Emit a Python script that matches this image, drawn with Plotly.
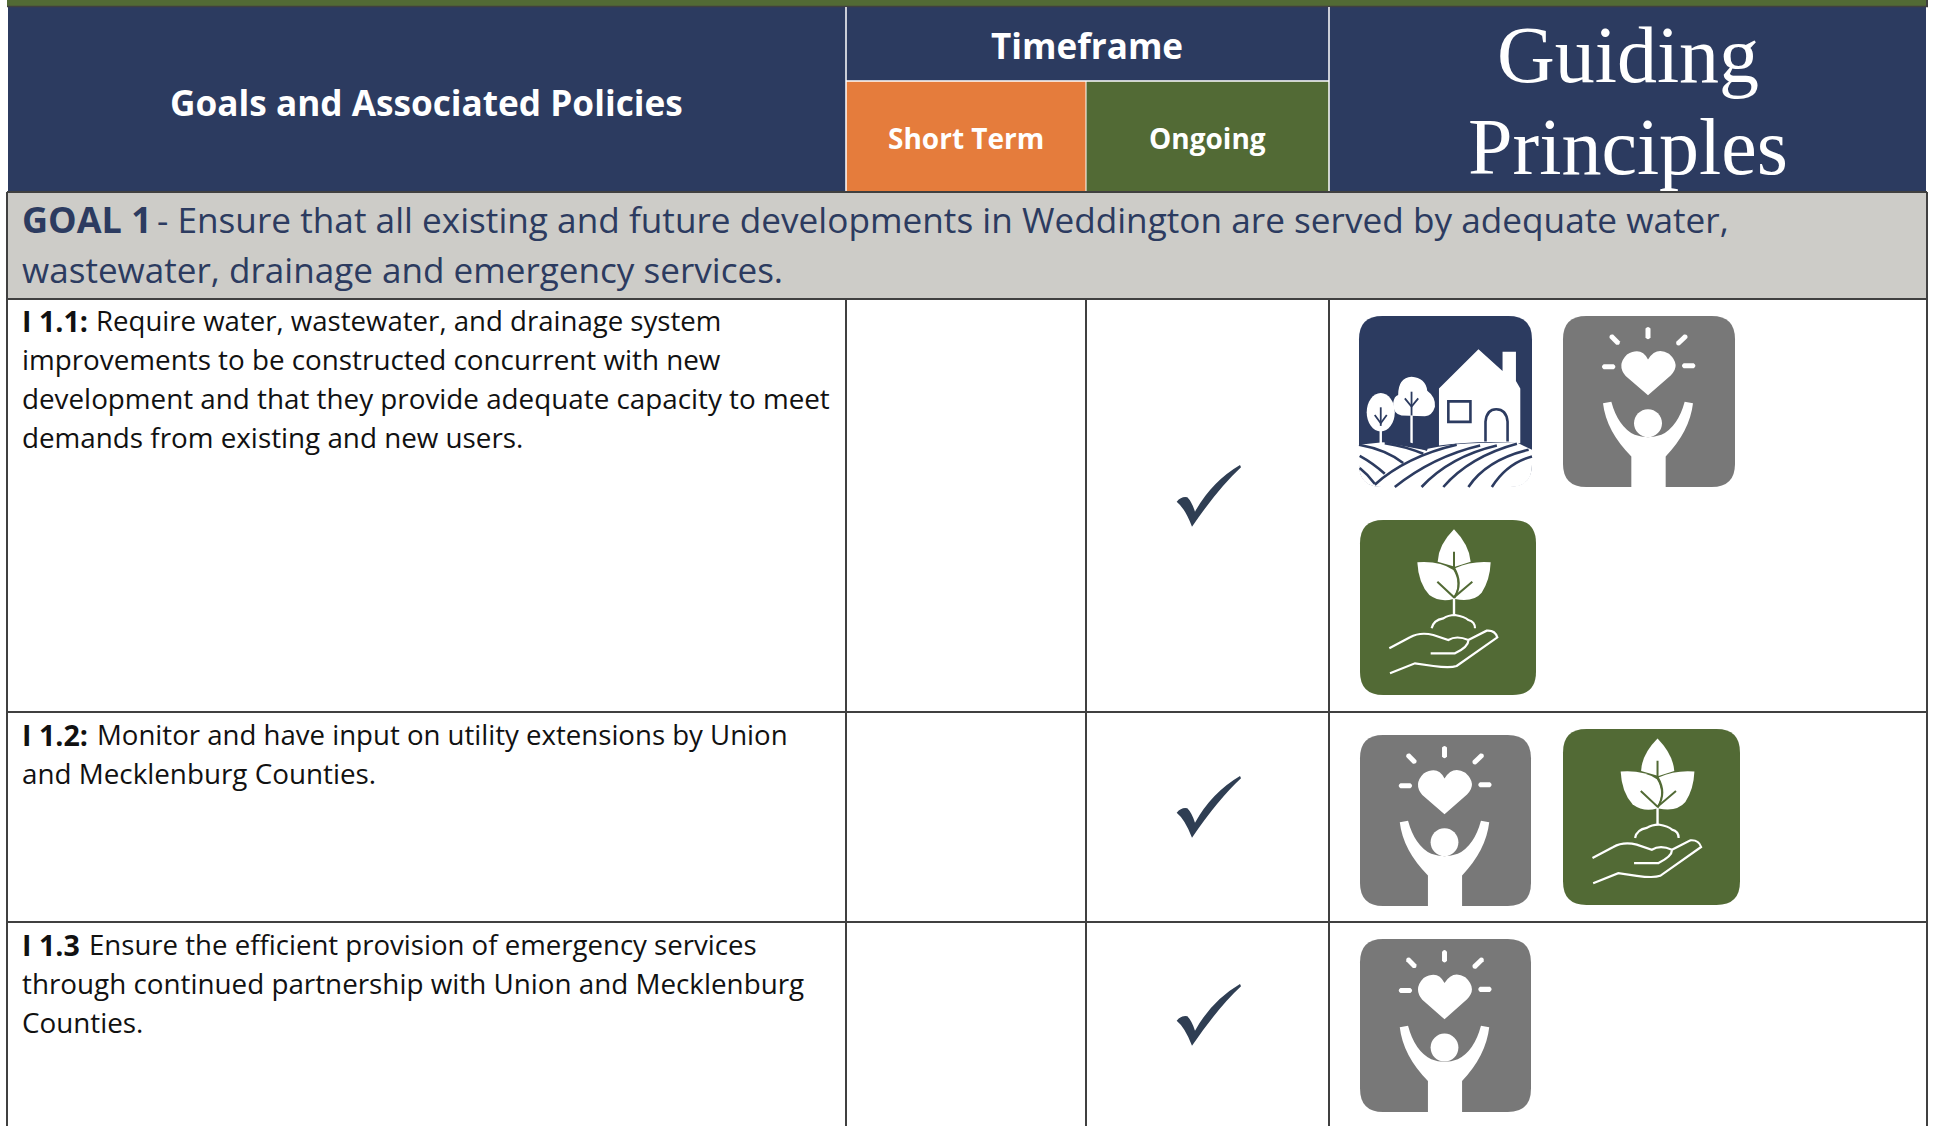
import re
import plotly.graph_objects as go

W, H = 1933, 1126
NAVY, ORANGE, GREEN, GREY, BAND = "#2c3b60", "#e57c3c", "#526a35", "#787878", "#cdccc8"
RULE, CHECK, WHITE, INK = "#404040", "#2f3e53", "#ffffff", "#111111"
FONT, SERIF = "Open Sans", "Liberation Serif"

# Table structure
col_edges = [7, 846, 1086, 1329, 1926]
header_rows = [6, 81, 192]
body_edges = [192, 299, 712, 922, 1126]

# Text
header_main = "Goals and Associated Policies"
header_time = "Timeframe"
header_short = "Short Term"
header_ongoing = "Ongoing"
header_guiding = ["Guiding", "Principles"]
goal_lead = "GOAL 1"
goal_first = "- Ensure that all existing and future developments in Weddington are served by adequate water,"
goal_second = "wastewater, drainage and emergency services."
policy_leads = ["I 1.1:", "I 1.2:", "I 1.3"]
policy_lead_end = [96, 96.5, 89]
policy_lines = [
    ["Require water, wastewater, and drainage system",
     "improvements to be constructed concurrent with new",
     "development and that they provide adequate capacity to meet",
     "demands from existing and new users."],
    ["Monitor and have input on utility extensions by Union",
     "and Mecklenburg Counties."],
    ["Ensure the efficient provision of emergency services",
     "through continued partnership with Union and Mecklenburg",
     "Counties."],
]
policy_line_y = [[320, 359, 398, 437], [734, 773], [944, 983, 1022]]
check_offsets = [0, 311, 519]

# Guiding-principle icons per policy: (kind, x0, y0, x1, y1)
icon_cells = [
    [("house", 1359, 316, 1532, 487), ("people", 1563, 316, 1735, 487), ("plant", 1360, 520, 1536, 695)],
    [("people", 1360, 735, 1531, 906), ("plant", 1563, 729, 1740, 905)],
    [("people", 1360, 939, 1531, 1112)],
]

shapes, annotations = [], []


def rect(x0, y0, x1, y1, fill, line=None, lw=0, layer="above"):
    shapes.append(dict(type="rect", xref="x", yref="y", x0=x0, y0=y0, x1=x1, y1=y1,
                       fillcolor=fill, line=dict(color=line or fill, width=lw), layer=layer))


def seg(x0, y0, x1, y1, color, lw):
    shapes.append(dict(type="line", xref="x", yref="y", x0=x0, y0=y0, x1=x1, y1=y1,
                       line=dict(color=color, width=lw), layer="above"))


def text(x, y, s, size, color=INK, anchor="center", family=FONT):
    annotations.append(dict(x=x, y=y, xref="x", yref="y", text=s, showarrow=False, xanchor=anchor,
                            yanchor="middle", font=dict(family=family, size=size, color=color),
                            borderpad=0, borderwidth=0))


def mapper(src, dst):
    sx0, sy0, sx1, sy1 = src
    dx0, dy0, dx1, dy1 = dst

    def conv(path):
        toks = re.findall(r"[MLQCZ]|-?\d+\.?\d*", path)
        out, is_x = [], True
        for t in toks:
            if t.isalpha():
                out.append(t)
                is_x = True
            elif is_x:
                out.append(f"{dx0 + (float(t) - sx0) * (dx1 - dx0) / (sx1 - sx0):.2f},")
                is_x = False
            else:
                out.append(f"{dy0 + (float(t) - sy0) * (dy1 - dy0) / (sy1 - sy0):.2f}")
                is_x = True
        return " ".join(out).replace(", ", ",")
    return conv


def draw(path, fill=None, line=None, lw=0):
    shapes.append(dict(type="path", xref="x", yref="y", path=path, layer="above",
                       fillcolor=fill or "rgba(0,0,0,0)",
                       line=dict(color=line or "rgba(0,0,0,0)", width=lw)))


def rounded(x0, y0, x1, y1, r):
    return (f"M{x0 + r},{y0} L{x1 - r},{y0} Q{x1},{y0} {x1},{y0 + r} L{x1},{y1 - r} Q{x1},{y1} {x1 - r},{y1} "
            f"L{x0 + r},{y1} Q{x0},{y1} {x0},{y1 - r} L{x0},{y0 + r} Q{x0},{y0} {x0 + r},{y0} Z")


def circle(cx, cy, rx, ry):
    k = 0.5523
    return (f"M{cx - rx},{cy} C{cx - rx},{cy - k * ry} {cx - k * rx},{cy - ry} {cx},{cy - ry} "
            f"C{cx + k * rx},{cy - ry} {cx + rx},{cy - k * ry} {cx + rx},{cy} "
            f"C{cx + rx},{cy + k * ry} {cx + k * rx},{cy + ry} {cx},{cy + ry} "
            f"C{cx - k * rx},{cy + ry} {cx - rx},{cy + k * ry} {cx - rx},{cy} Z")


def icon_house(box):
    c = mapper((58, 47, 575, 562), box)
    draw(c(rounded(58, 47, 575, 562, 70)), NAVY)
    # fields
    draw(c("M58,435 L130,427 L250,450 Q340,425 530,428 L575,450 L575,495 Q575,562 510,562 L125,562 Q58,562 58,495 Z"), WHITE)
    # house
    draw(c("M297,437 L297,265 L415,147 L487,213 L487,155 L527,155 L527,243 L540,265 L540,430 Q420,420 297,437 Z"), WHITE)
    draw(c("M325,304 L391,304 L391,366 L325,366 Z"), WHITE, NAVY, 2.6)
    draw(c("M436,425 L436,365 Q440,328 468,328 Q498,328 502,365 L502,425"), None, NAVY, 2.6)
    # left tree
    draw(c(circle(123, 337, 42, 58)), WHITE)
    draw(c("M123,322 L123,378"), None, NAVY, 1.8)
    draw(c("M105,345 L123,370 L141,345"), None, NAVY, 1.8)
    draw(c("M123,392 L123,436"), None, WHITE, 2.4)
    # right tree
    draw(c("M185,347 Q160,342 160,310 Q163,288 175,285 Q175,233 215,230 Q257,233 262,272 Q287,290 285,320 Q277,347 255,349 Z"), WHITE)
    draw(c("M215,275 L215,347"), None, NAVY, 1.8)
    draw(c("M195,295 L215,320 L235,295"), None, NAVY, 1.8)
    draw(c("M215,347 L215,432"), None, WHITE, 2.4)
    # furrows
    for p in ["M58,435 Q140,450 190,490", "M60,468 Q100,490 135,522", "M60,505 Q85,525 105,552",
              "M135,430 Q200,440 250,462", "M190,428 Q230,435 262,450",
              "M105,555 Q200,470 350,435", "M165,562 Q280,470 420,437", "M245,562 Q330,470 470,437",
              "M310,562 Q390,470 530,432", "M385,562 Q440,480 565,450", "M455,562 Q500,490 575,470"]:
        draw(c(p), None, NAVY, 2.6)


def capsule(x0, y0, x1, y1, w):
    dx, dy = x1 - x0, y1 - y0
    n = (dx * dx + dy * dy) ** 0.5
    ux, uy = dx / n, dy / n
    px, py = -uy * w / 2, ux * w / 2
    ex, ey = ux * w * 0.7, uy * w * 0.7
    return (f"M{x0 + px:.1f},{y0 + py:.1f} L{x1 + px:.1f},{y1 + py:.1f} Q{x1 + ex:.1f},{y1 + ey:.1f} {x1 - px:.1f},{y1 - py:.1f} "
            f"L{x0 - px:.1f},{y0 - py:.1f} Q{x0 - ex:.1f},{y0 - ey:.1f} {x0 + px:.1f},{y0 + py:.1f} Z")


def icon_people(box):
    c = mapper((670, 47, 1186, 562), box)
    draw(c(rounded(670, 47, 1186, 562, 70)), GREY)
    for r in [(925, 85, 925, 112), (815, 108, 835, 128), (1038, 108, 1015, 130), (792, 200, 822, 200), (1032, 197, 1062, 197)]:
        draw(c(capsule(*r, 15)), WHITE)
    draw(c("M925,286 L858,228 Q830,195 862,163 Q905,138 925,178 Q950,138 988,161 Q1025,195 993,226 Z"), WHITE)
    draw(c(circle(925, 370, 42, 42)), WHITE)
    draw(c("M790,310 L815,305 Q835,380 885,405 Q925,420 965,405 Q1015,380 1035,305 L1060,310 Q1050,395 978,470 "
           "L978,562 L875,562 L875,470 Q800,395 790,310 Z"), WHITE)


def icon_plant(box):
    c = mapper((60, 660, 588, 1185), box)
    draw(c(rounded(60, 660, 588, 1185, 70)), GREEN)
    draw(c("M342,688 Q388,735 392,785 L345,800 L293,785 Q295,735 342,688 Z"), WHITE)
    draw(c("M232,787 Q300,782 340,810 Q365,850 340,897 Q300,908 268,885 Q235,850 232,787 Z"), WHITE)
    draw(c("M452,787 Q395,782 345,805 Q365,850 345,897 Q400,908 425,878 Q450,840 452,787 Z"), WHITE)
    for p in ["M342,755 L342,803 Q370,850 343,892", "M292,845 L342,892 L397,845"]:
        draw(c(p), None, GREEN, 2.0)
    draw(c("M342,895 L342,945"), None, WHITE, 2.4)
    for p in ["M275,985 Q280,960 310,955 Q325,945 345,945 Q375,950 385,960 Q405,965 405,985",
              "M148,1045 L210,1012 Q240,995 280,1005 L325,1020 Q350,1005 385,1020 L440,992 Q465,990 472,1012 "
              "L350,1098 Q330,1105 280,1098 L225,1090 L150,1120",
              "M272,1060 L345,1060 Q385,1040 385,1022"]:
        draw(c(p), None, WHITE, 2.2)


ICONS = {"house": icon_house, "people": icon_people, "plant": icon_plant}

# Top bar and header (header paint sits below the serif heading, the goal band above it)
x0, x1, x2, x3, x4 = col_edges
y0, y1, y2 = header_rows
rect(7, 0, x4 + 1, y0, GREEN)
seg(7, y0 + 0.5, x4 + 2, y0 + 0.5, RULE, 1.5)
seg(x4 + 1, 0, x4 + 1, y0, RULE, 2)
rect(8, y0 + 1, x4, y2, NAVY, layer="below")
rect(x1, y1, x2, y2, ORANGE)
rect(x2, y1, x3, y2, GREEN)
for x in (x1, x3):
    seg(x, y0 + 1, x, y2, WHITE, 1.5)
seg(x2, y1, x2, y2, WHITE, 1)
seg(x1, y1, x3, y1, WHITE, 1.5)

text(426, 101.5, f"<b>{header_main}</b>", 35.2, WHITE)
text(1087, 45, f"<b>{header_time}</b>", 35.1, WHITE)
text(966, 138, f"<b>{header_short}</b>", 28, WHITE)
text(1207, 138, f"<b>{header_ongoing}</b>", 28, WHITE)

# Goal band
rect(x0, body_edges[0], x4, body_edges[1], BAND)
text(22, 219, f"<b>{goal_lead}</b>", 36, NAVY, "left")
text(156.5, 219, goal_first, 35.2, NAVY, "left")
text(22, 269, goal_second, 35.1, NAVY, "left")

# Body grid
for y in body_edges[:4]:
    seg(x0, y, x4 + 1, y, RULE, 2)
for x in (x0, x4 + 1):
    seg(x, body_edges[0], x, H, RULE, 2)
for x in (x1, x2, x3):
    seg(x, body_edges[1], x, H, RULE, 2)

# Policy text
for lead, lead_end, lines, ys in zip(policy_leads, policy_lead_end, policy_lines, policy_line_y):
    text(22, ys[0], f"<b>{lead}</b>", 28.6, INK, "left")
    text(lead_end, ys[0], lines[0], 27.6, INK, "left")
    for s, y in zip(lines[1:], ys[1:]):
        text(22, y, s, 27.8, INK, "left")

# Checks
check = "M110,185 Q125,168 142,172 Q155,185 165,215 Q215,125 300,75 L303,82 Q235,145 156,260 Q135,205 110,185 Z"
for off in check_offsets:
    draw(mapper((0, 0, 360, 330), (1140, 440 + off, 1260, 550 + off))(check), CHECK)

# Icons
for row in icon_cells:
    for kind, a, b, c_, d in row:
        ICONS[kind]((a, b, c_, d))

fig = go.Figure(go.Scatter(
    x=[1628, 1628], y=[62, 154], mode="text", text=header_guiding, textposition="middle center",
    textfont=dict(family=SERIF, size=80, color=WHITE), hoverinfo="skip", cliponaxis=False,
))
fig.update_layout(
    width=W, height=H, margin=dict(l=0, r=0, t=0, b=0), autosize=False,
    paper_bgcolor=WHITE, plot_bgcolor=WHITE, showlegend=False,
    xaxis=dict(range=[0, W], visible=False, fixedrange=True),
    yaxis=dict(range=[H, 0], visible=False, fixedrange=True),
    shapes=shapes, annotations=annotations,
)
fig.write_html("out.html", config={"displayModeBar": False},
               post_script="document.body.style.margin='0';document.documentElement.style.overflow='hidden';")
